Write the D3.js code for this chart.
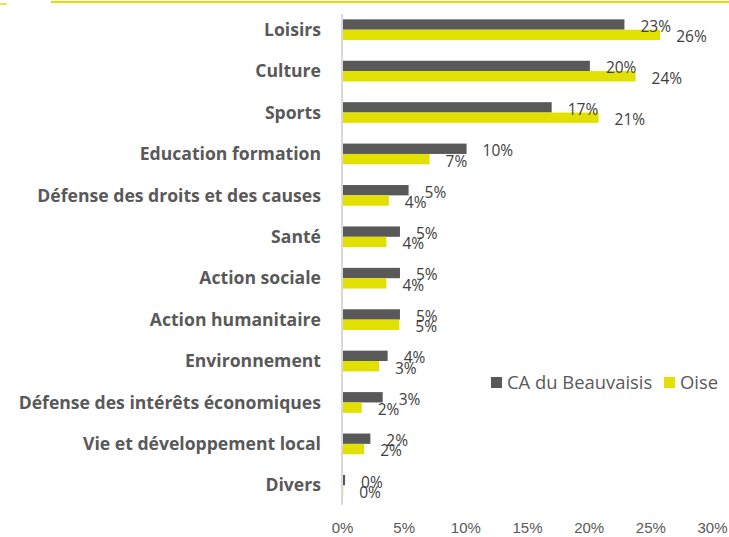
<!DOCTYPE html>
<html>
<head>
<meta charset="utf-8">
<script src="https://cdn.jsdelivr.net/npm/d3@7"></script>
<style>
  body { margin: 0; background: #fff; }
  svg { display: block; font-family: "Open Sans", sans-serif; }
  .cat { font-weight: bold; fill: #595959; font-size: 17.6px; }
  .val { fill: #404040; font-size: 15.5px; }
  .tick text { fill: #595959; font-size: 15px; }
  .leg { fill: #595959; font-size: 18.4px; }
</style>
</head>
<body>
<div id="chart"></div>
<script>
// categories, top to bottom
var categories = ["Loisirs", "Culture", "Sports", "Education formation",
  "Défense des droits et des causes", "Santé", "Action sociale", "Action humanitaire",
  "Environnement", "Défense des intérêts économiques", "Vie et développement local", "Divers"];

// values in %
var caBeauvaisis = [22.9, 20.1, 17.0, 10.1, 5.4, 4.7, 4.7, 4.7, 3.7, 3.3, 2.3, 0.25];
var oise = [25.8, 23.8, 20.8, 7.1, 3.8, 3.6, 3.6, 4.65, 3.0, 1.6, 1.8, 0.1];

var seriesNames = ["CA du Beauvaisis", "Oise"];
var colors = ["#595959", "#e2e000"];
var xTicks = [0, 5, 10, 15, 20, 25, 30];

var w = 729, h = 537;

var svg = d3.select("#chart").append("svg")
    .attr("width", w)
    .attr("height", h);

// little yellow header rule
svg.append("line").attr("x1", 51).attr("x2", w).attr("y1", 2).attr("y2", 2)
    .attr("stroke", "#e2e000").attr("stroke-width", 2);
svg.append("line").attr("x1", 0).attr("x2", 7).attr("y1", 4).attr("y2", 4)
    .attr("stroke", "#e2e000").attr("stroke-width", 1.5);

var x = d3.scaleLinear().domain([0, 30]).range([342, 712]);

var y = d3.scaleBand()
    .domain(categories)
    .range([9, 506])
    .paddingInner(0.5)
    .paddingOuter(0.25);

var sub = d3.scaleBand().domain([0, 1]).range([0, y.bandwidth()]);

var rows = categories.map(function (c, i) {
    return { cat: c, vals: [caBeauvaisis[i], oise[i]] };
});

var groups = svg.selectAll("g.row")
    .data(rows)
    .enter()
    .append("g")
    .attr("class", "row")
    .attr("transform", function (d) { return "translate(0," + y(d.cat) + ")"; });

groups.selectAll("rect")
    .data(function (d) { return d.vals; })
    .enter()
    .append("rect")
    .attr("x", x(0))
    .attr("y", function (d, i) { return sub(i); })
    .attr("width", function (d) { return x(d) - x(0); })
    .attr("height", sub.bandwidth())
    .attr("fill", function (d, i) { return colors[i]; });

// data labels
groups.selectAll("text.val")
    .data(function (d) { return d.vals; })
    .enter()
    .append("text")
    .attr("class", "val")
    .attr("x", function (d) { return x(d) + 16; })
    .attr("y", function (d, i) { return sub(i) + sub.bandwidth() / 2 + 2; })
    .attr("dy", "0.35em")
    .text(function (d) { return Math.round(d) + "%"; });

// category labels
groups.append("text")
    .attr("class", "cat")
    .attr("x", 321)
    .attr("y", y.bandwidth() / 2)
    .attr("dy", "0.35em")
    .attr("text-anchor", "end")
    .text(function (d) { return d.cat; });

// vertical axis line
svg.append("line")
    .attr("x1", x(0)).attr("x2", x(0))
    .attr("y1", 14).attr("y2", 505)
    .attr("stroke", "#d9d9d9").attr("stroke-width", 2);

// x axis
var xAxis = d3.axisBottom(x)
    .tickValues(xTicks)
    .tickSize(0)
    .tickPadding(0)
    .tickFormat(function (d) { return d + "%"; });

var gx = svg.append("g")
    .attr("transform", "translate(0,522)")
    .call(xAxis);
gx.select(".domain").remove();
gx.selectAll("text").attr("font-family", null);

// legend
var leg = svg.append("g").attr("transform", "translate(491,377)");
var legX = [0, 173];
seriesNames.forEach(function (s, i) {
    leg.append("rect").attr("x", legX[i]).attr("y", 0)
        .attr("width", 11).attr("height", 11).attr("fill", colors[i]);
    leg.append("text").attr("class", "leg")
        .attr("x", legX[i] + 16).attr("y", 5.5).attr("dy", "0.35em")
        .text(s);
});
</script>
</body>
</html>
